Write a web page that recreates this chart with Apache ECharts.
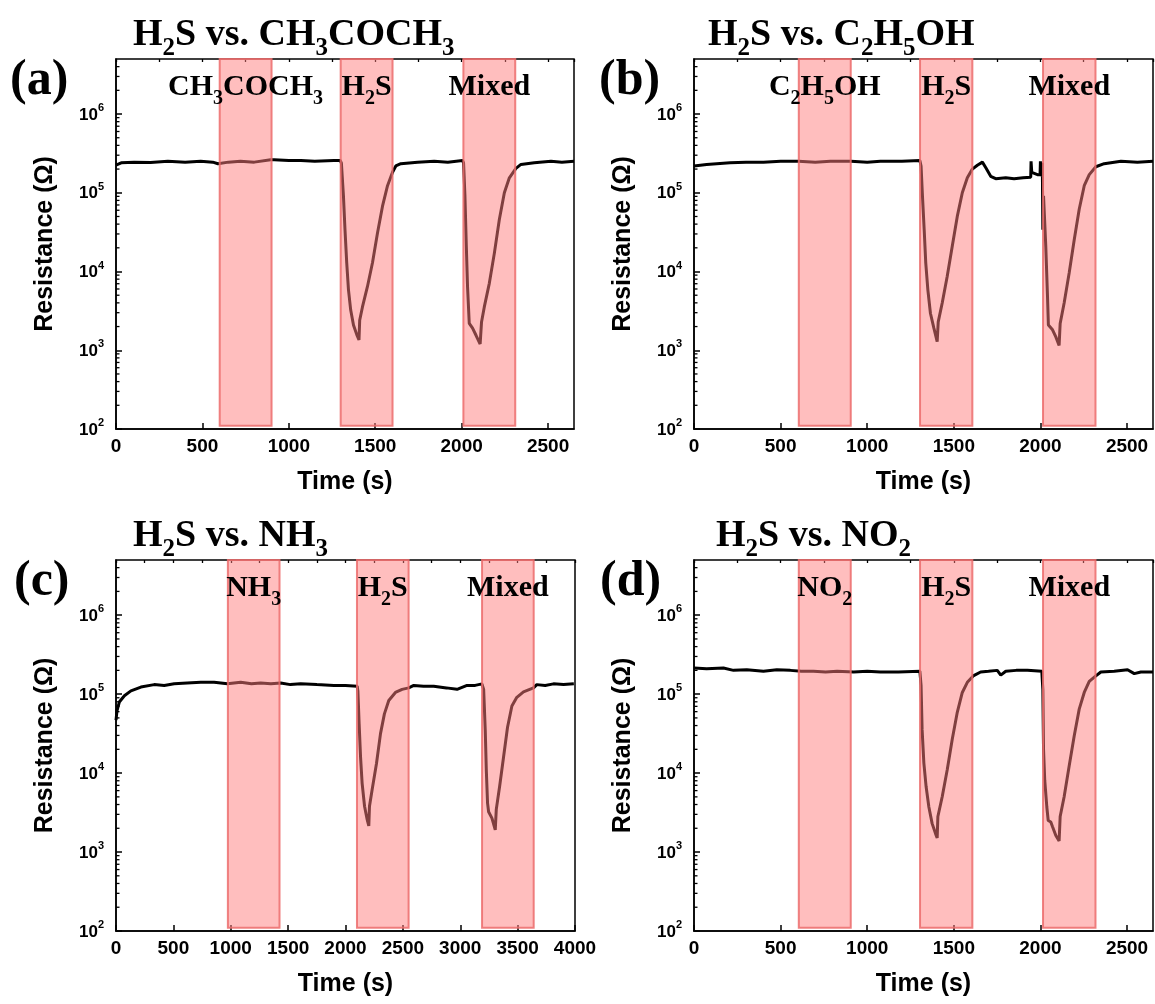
<!DOCTYPE html>
<html><head><meta charset="utf-8">
<script src="https://cdn.jsdelivr.net/npm/echarts@6/dist/echarts.min.js"></script>
<style>html,body{margin:0;padding:0;background:#fff}#c{width:1155px;height:1004px}</style>
</head><body><div id="c"></div>
<script>
// ---------------- data ----------------
const timeA = [0,30,105,200,300,400,490,560,590,650,720,800,895,915,1000,1070,1150,1260,1297,1304,1316,1325,1335,1345,1358,1374,1393,1406,1410,1426,1455,1484,1513,1542,1571,1600,1619,1648,1745,1841,1920,2005,2011,2019,2027,2034,2044,2063,2083,2107,2115,2131,2160,2189,2218,2247,2276,2314,2343,2420,2517,2580,2650];
const resA = [2.24e5,2.40e5,2.45e5,2.42e5,2.51e5,2.45e5,2.51e5,2.45e5,2.34e5,2.45e5,2.51e5,2.45e5,2.63e5,2.63e5,2.57e5,2.57e5,2.51e5,2.57e5,2.57e5,2.40e5,9.12e4,3.39e4,1.29e4,5.89e3,3.24e3,2.09e3,1.58e3,1.35e3,2.40e3,3.55e3,6.46e3,1.29e4,3.09e4,6.76e4,1.23e5,1.82e5,2.19e5,2.34e5,2.45e5,2.51e5,2.45e5,2.57e5,2.40e5,9.12e4,2.09e4,6.46e3,2.19e3,1.91e3,1.55e3,1.20e3,2.29e3,3.55e3,7.08e3,1.70e4,4.57e4,1.00e5,1.55e5,2.04e5,2.29e5,2.40e5,2.51e5,2.45e5,2.51e5];

const timeB = [0,73,208,300,401,500,604,700,787,906,1000,1076,1200,1304,1311,1319,1329,1338,1350,1365,1385,1404,1410,1433,1462,1491,1520,1549,1578,1607,1636,1665,1684,1713,1742,1800,1848,1900,1944,1946,1950,1983,1998,2000,2004,2009,2011,2014,2018,2031,2041,2046,2070,2089,2108,2114,2137,2166,2195,2224,2253,2282,2320,2368,2465,2560,2650];
const resB = [2.19e5,2.29e5,2.40e5,2.45e5,2.45e5,2.51e5,2.51e5,2.45e5,2.51e5,2.51e5,2.45e5,2.51e5,2.51e5,2.57e5,2.19e5,9.12e4,3.39e4,1.29e4,5.89e3,2.95e3,1.91e3,1.29e3,2.29e3,3.98e3,8.71e3,2.09e4,5.01e4,1.00e5,1.55e5,2.00e5,2.24e5,2.45e5,2.09e5,1.62e5,1.51e5,1.55e5,1.51e5,1.55e5,1.58e5,2.51e5,1.82e5,1.70e5,1.70e5,2.51e5,1.62e5,1.62e5,2.40e5,3.39e4,9.12e4,2.09e4,4.79e3,2.09e3,1.82e3,1.48e3,1.15e3,2.19e3,3.98e3,9.55e3,2.51e4,6.17e4,1.23e5,1.70e5,2.14e5,2.34e5,2.51e5,2.45e5,2.51e5];

const timeC = [0,9,29,73,130,217,333,420,507,620,739,855,971,1087,1180,1261,1350,1435,1520,1609,1750,1899,2000,2102,2108,2119,2131,2145,2166,2189,2203,2209,2232,2270,2305,2339,2377,2435,2493,2551,2595,2680,2769,2880,2972,3059,3130,3189,3204,3218,3227,3238,3247,3276,3305,3314,3343,3378,3412,3450,3493,3551,3638,3667,3740,3812,3900,3990];
const resC = [4.68e4,6.17e4,7.94e4,9.55e4,1.10e5,1.23e5,1.32e5,1.29e5,1.35e5,1.38e5,1.41e5,1.41e5,1.35e5,1.41e5,1.35e5,1.38e5,1.35e5,1.38e5,1.32e5,1.35e5,1.32e5,1.29e5,1.29e5,1.26e5,1.10e5,4.17e4,1.62e4,7.41e3,3.80e3,2.57e3,2.14e3,3.80e3,6.17e3,1.32e4,3.16e4,5.62e4,8.32e4,1.05e5,1.15e5,1.20e5,1.29e5,1.26e5,1.26e5,1.20e5,1.15e5,1.29e5,1.29e5,1.35e5,1.15e5,3.47e4,1.10e4,4.17e3,3.24e3,2.69e3,1.91e3,3.47e3,6.76e3,1.62e4,3.80e4,7.08e4,9.12e4,1.07e5,1.20e5,1.32e5,1.29e5,1.35e5,1.32e5,1.35e5];

const timeD = [0,73,170,228,305,401,478,556,620,690,760,826,922,1000,1076,1180,1304,1311,1317,1327,1340,1356,1375,1395,1404,1408,1433,1462,1491,1520,1549,1578,1612,1655,1700,1751,1771,1800,1860,1925,2008,2014,2018,2025,2037,2045,2060,2070,2089,2108,2114,2137,2166,2195,2224,2253,2282,2320,2349,2426,2503,2542,2580,2619,2650];
const resD = [2.14e5,2.09e5,2.14e5,2.00e5,2.04e5,1.95e5,2.04e5,2.00e5,1.95e5,1.95e5,1.91e5,1.95e5,1.91e5,1.95e5,1.91e5,1.91e5,1.95e5,1.29e5,3.55e4,1.35e4,6.76e3,3.72e3,2.29e3,1.70e3,1.51e3,2.82e3,5.01e3,1.10e4,2.69e4,5.89e4,1.05e5,1.41e5,1.70e5,1.91e5,1.95e5,2.00e5,1.74e5,1.95e5,2.00e5,2.00e5,1.95e5,1.15e5,2.00e4,8.13e3,3.72e3,2.51e3,2.40e3,2.09e3,1.62e3,1.38e3,2.82e3,5.01e3,1.23e4,2.95e4,6.46e4,1.05e5,1.45e5,1.70e5,1.91e5,1.95e5,2.04e5,1.82e5,1.91e5,1.91e5,1.91e5];

// gas exposure windows [start, end] in s
const bandsA = [[600,900],[1300,1600],[2010,2310]];
const bandsB = [[605,905],[1305,1607],[2015,2318]];
const bandsC = [[975,1425],[2100,2550],[3190,3640]];
const bandsD = [[605,905],[1305,1607],[2015,2318]];

// band labels (rich text: {n|normal}{s|subscript})
const bandLabelsA = ['{n|CH}{s|3}{n|COCH}{s|3}', '{n|H}{s|2}{n|S}', '{n|Mixed}'];
const bandLabelsB = ['{n|C}{s|2}{n|H}{s|5}{n|OH}', '{n|H}{s|2}{n|S}', '{n|Mixed}'];
const bandLabelsC = ['{n|NH}{s|3}', '{n|H}{s|2}{n|S}', '{n|Mixed}'];
const bandLabelsD = ['{n|NO}{s|2}', '{n|H}{s|2}{n|S}', '{n|Mixed}'];

const panelTitles = [
  '{n|H}{s|2}{n|S vs. CH}{s|3}{n|COCH}{s|3}',
  '{n|H}{s|2}{n|S vs. C}{s|2}{n|H}{s|5}{n|OH}',
  '{n|H}{s|2}{n|S vs. NH}{s|3}',
  '{n|H}{s|2}{n|S vs. NO}{s|2}'
];
const panelLetters = ['(a)', '(b)', '(c)', '(d)'];

const xMaxes = [2650, 2650, 4000, 2650];
const yMin = 100, yMax = 5e6;
const yMinorTicks = [200,300,400,500,600,700,800,900,2000,3000,4000,5000,6000,7000,8000,9000,
  2e4,3e4,4e4,5e4,6e4,7e4,8e4,9e4,2e5,3e5,4e5,5e5,6e5,7e5,8e5,9e5,2e6,3e6,4e6];

// ---------------- layout ----------------
const gridsPos = [
  {left:116, top:59, width:458, height:370},
  {left:694, top:59, width:459, height:370},
  {left:116, top:560, width:459, height:371},
  {left:694, top:560, width:459, height:371}
];
const titlePos = [{left:133, top:16},{left:708, top:16},{left:133, top:517},{left:716, top:517}];
const letterPos = [{left:10, top:56},{left:599, top:56},{left:14, top:557},{left:600, top:557}];

const SANS = 'Liberation Sans', SERIF = 'Liberation Serif';
const titleRich = {
  n:{fontFamily:SERIF,fontWeight:'bold',fontSize:38,lineHeight:40,color:'#000',verticalAlign:'top'},
  s:{fontFamily:SERIF,fontWeight:'bold',fontSize:25,lineHeight:25,padding:[20,0,0,0],color:'#000',verticalAlign:'top'}
};
const bandRich = {
  n:{fontFamily:SERIF,fontWeight:'bold',fontSize:30,lineHeight:32,color:'#000',verticalAlign:'top'},
  s:{fontFamily:SERIF,fontWeight:'bold',fontSize:20,lineHeight:20,padding:[17,0,0,0],color:'#000',verticalAlign:'top'}
};
const yLabRich = {
  b:{fontFamily:SANS,fontWeight:'bold',fontSize:17,lineHeight:19,color:'#000',verticalAlign:'bottom'},
  s:{fontFamily:SANS,fontWeight:'bold',fontSize:11,lineHeight:11,padding:[0,0,10,0],color:'#000',verticalAlign:'bottom'}
};

const times = [timeA,timeB,timeC,timeD];
const ress = [resA,resB,resC,resD];
const bands = [bandsA,bandsB,bandsC,bandsD];
const bandLabels = [bandLabelsA,bandLabelsB,bandLabelsC,bandLabelsD];

const grid = [], xAxis = [], yAxis = [], series = [], title = [];
for (let i = 0; i < 4; i++) {
  grid.push(Object.assign({show:true, borderColor:'#000', borderWidth:1.5, backgroundColor:'transparent', containLabel:false}, gridsPos[i]));
  const xm = xMaxes[i];
  xAxis.push({
    type:'value', gridIndex:i, min:0, max:xm, interval:500,
    axisLine:{show:true, onZero:false, lineStyle:{color:'#000', width:1.5}},
    axisTick:{show:true, inside:true, length:6, lineStyle:{color:'#000', width:1.5}},
    axisLabel:{fontFamily:SANS, fontWeight:'bold', fontSize:19, color:'#000', margin:8,
      showMaxLabel: xm % 500 === 0, showMinLabel:true,
      formatter:function(v){ return String(Math.round(v)); }},
    splitLine:{show:false},
    name:'Time (s)', nameLocation:'middle', nameGap:41,
    nameTextStyle:{fontFamily:SANS, fontWeight:'bold', fontSize:25, color:'#000'}
  });
  xAxis.push({
    type:'value', gridIndex:i, min:0, max:xm, interval:250,
    axisLine:{show:false, onZero:false},
    axisTick:{show:true, inside:true, length:3, lineStyle:{color:'#000', width:1.3}},
    axisLabel:{show:false}, splitLine:{show:false}
  });
  yAxis.push({
    type:'log', logBase:10, gridIndex:i, min:yMin, max:yMax,
    axisLine:{show:true, onZero:false, lineStyle:{color:'#000', width:1.5}},
    axisTick:{show:true, inside:true, length:6, lineStyle:{color:'#000', width:1.5}},
    axisLabel:{
      margin:12, showMaxLabel:false, showMinLabel:true, rich:yLabRich,
      formatter:function(v){
        const e = Math.round(Math.log10(v));
        if (Math.abs(Math.pow(10,e) - v) / v > 1e-6) return '';
        return '{b|10}{s|' + e + '}';
      }
    },
    splitLine:{show:false}, minorTick:{show:false},
    name:'Resistance (\u03A9)', nameLocation:'middle', nameGap:58,
    nameTextStyle:{fontFamily:SANS, fontWeight:'bold', fontSize:25, color:'#000'}
  });

  const data = [];
  const n = Math.min(times[i].length, ress[i].length);
  for (let k = 0; k < n; k++) data.push([times[i][k], ress[i][k]]);

  series.push({
    type:'line', xAxisIndex:2*i, yAxisIndex:i, data:data, showSymbol:false, symbol:'none',
    lineStyle:{color:'#000', width:3}, z:2, animation:false, silent:true,
    markArea:{
      z:5, silent:true, animation:false,
      itemStyle:{color:'rgba(255,125,125,0.5)', borderColor:'rgba(236,108,108,0.85)', borderWidth:2},
      label:{show:true, position:'insideTop', distance:14, rich:bandRich, color:'#000'},
      emphasis:{disabled:true},
      data: bands[i].map((b, j) => [
        {xAxis:b[0], yAxis:110, label:{formatter:bandLabels[i][j]}},
        {xAxis:b[1], yAxis:yMax}
      ])
    }
  });
  // minor ticks of the log axis, placed through the axis scales
  series.push({
    type:'custom', xAxisIndex:2*i, yAxisIndex:i, clip:false, silent:true, z:4, animation:false,
    data: yMinorTicks.map(v => [0, v]),
    encode:{x:0, y:1},
    renderItem:function(params, api){
      const p = api.coord([api.value(0), api.value(1)]);
      return {type:'line', shape:{x1:p[0], y1:p[1], x2:p[0]+3.5, y2:p[1]}, style:{stroke:'#000', lineWidth:1.3}};
    }
  });

  title.push({text:panelTitles[i], left:titlePos[i].left, top:titlePos[i].top, padding:0, textStyle:{rich:titleRich}});
  title.push({text:panelLetters[i], left:letterPos[i].left, top:letterPos[i].top, padding:0,
    textStyle:{fontFamily:SERIF, fontWeight:'bold', fontSize:50, color:'#000'}});
}

const chart = echarts.init(document.getElementById('c'), null, {renderer:'canvas'});
chart.setOption({animation:false, backgroundColor:'#fff', title:title, grid:grid, xAxis:xAxis, yAxis:yAxis, series:series});
</script></body></html>
